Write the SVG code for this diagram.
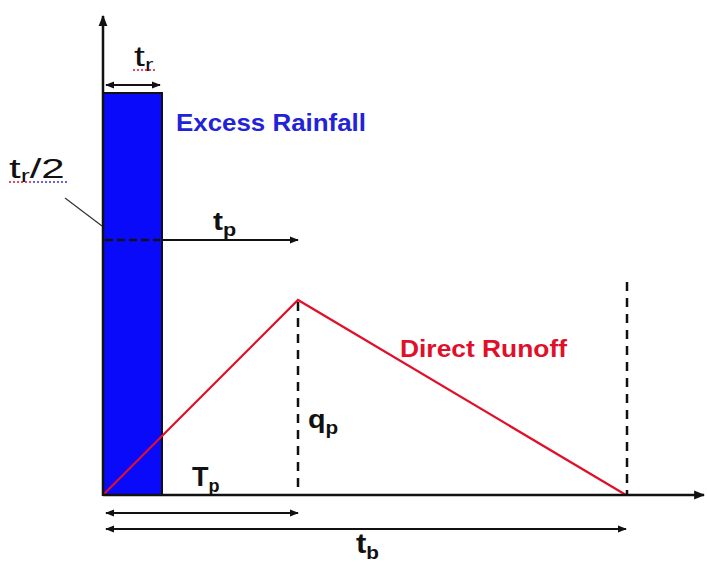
<svg xmlns="http://www.w3.org/2000/svg" width="707" height="562" viewBox="0 0 707 562">
<style>
.ax{stroke:#111;stroke-width:2.5;fill:none}
.dim{stroke:#111;stroke-width:2;fill:none}
.dash{stroke:#111;stroke-width:2.5;stroke-dasharray:9,7;fill:none}
.lbl{font-family:"Liberation Sans",Arial,sans-serif;fill:#111}
.red{stroke:#e0102a;stroke-width:2.2;fill:none}
</style>
<defs>
<marker id="ah" viewBox="0 0 10 10" refX="9" refY="5" markerWidth="9" markerHeight="9" markerUnits="userSpaceOnUse" orient="auto-start-reverse"><path d="M0,1 L10,5 L0,9 z" fill="#111"/></marker>
<marker id="ahl" viewBox="0 0 10 10" refX="9" refY="5" markerWidth="11" markerHeight="11" markerUnits="userSpaceOnUse" orient="auto-start-reverse"><path d="M0,1 L10,5 L0,9 z" fill="#111"/></marker>
</defs>
<rect width="707" height="562" fill="#fff"/>
<g id="rainfall">
<rect x="103" y="93" width="59" height="402" fill="#0a0afa" stroke="#111" stroke-width="2"/>
<text class="lbl" x="176" y="131" font-size="24" font-weight="bold" textLength="190" lengthAdjust="spacingAndGlyphs" style="fill:#2222d8">Excess Rainfall</text>
</g>
<g id="runoff">
<polyline class="red" points="103,495 298,300 626,495"/>
<text class="lbl" x="400" y="357" font-size="24" font-weight="bold" textLength="167" lengthAdjust="spacingAndGlyphs" style="fill:#e0102a">Direct Runoff</text>
</g>
<g id="connectors">
<line class="ax" x1="103" y1="496" x2="103" y2="16" marker-end="url(#ahl)"/>
<line class="ax" x1="103" y1="495" x2="704" y2="495" marker-end="url(#ahl)"/>
<line class="dim" x1="106" y1="85" x2="160" y2="85" marker-start="url(#ah)" marker-end="url(#ah)"/>
<line x1="105" y1="240" x2="160" y2="240" stroke="#111" stroke-width="2.5" stroke-dasharray="8,4"/>
<line class="dim" x1="162" y1="240" x2="298" y2="240" marker-end="url(#ah)"/>
<line x1="65" y1="198" x2="102" y2="226" stroke="#333" stroke-width="1.2"/>
<line class="dash" x1="298" y1="302" x2="298" y2="495"/>
<line class="dash" x1="627" y1="282" x2="627" y2="495"/>
<line class="dim" x1="106" y1="513" x2="298" y2="513" marker-start="url(#ah)" marker-end="url(#ah)"/>
<line class="dim" x1="106" y1="529" x2="626" y2="529" marker-start="url(#ah)" marker-end="url(#ah)"/>
</g>
<g id="labels">
<text class="lbl" transform="translate(134,66) scale(1.4,1)" font-size="28">t<tspan font-size="18" dy="5">r</tspan></text>
<line x1="133" y1="70" x2="157" y2="70" stroke="#e0102a" stroke-width="1.5" stroke-dasharray="2,2"/>
<text class="lbl" transform="translate(9,178) scale(1.5,1)" font-size="28">t<tspan font-size="18" dy="4">r</tspan><tspan dy="-4">/2</tspan></text>
<line x1="9" y1="182" x2="33" y2="182" stroke="#e0102a" stroke-width="1.5" stroke-dasharray="2,2"/>
<line x1="33" y1="182" x2="67" y2="182" stroke="#3030e0" stroke-width="1.5" stroke-dasharray="2,2"/>
<text class="lbl" transform="translate(213,230) scale(1.2,1)" font-size="25" font-weight="bold">t<tspan font-size="18" dy="6">p</tspan></text>
<text class="lbl" transform="translate(308,428) scale(1.15,1)" font-size="25" font-weight="bold">q<tspan font-size="18" dy="6">p</tspan></text>
<text class="lbl" x="192" y="486" font-size="27" font-weight="bold">T<tspan font-size="18" dy="6">p</tspan></text>
<text class="lbl" transform="translate(356,553) scale(1.15,1)" font-size="27" font-weight="bold">t<tspan font-size="18" dy="6">b</tspan></text>
</g>
</svg>
